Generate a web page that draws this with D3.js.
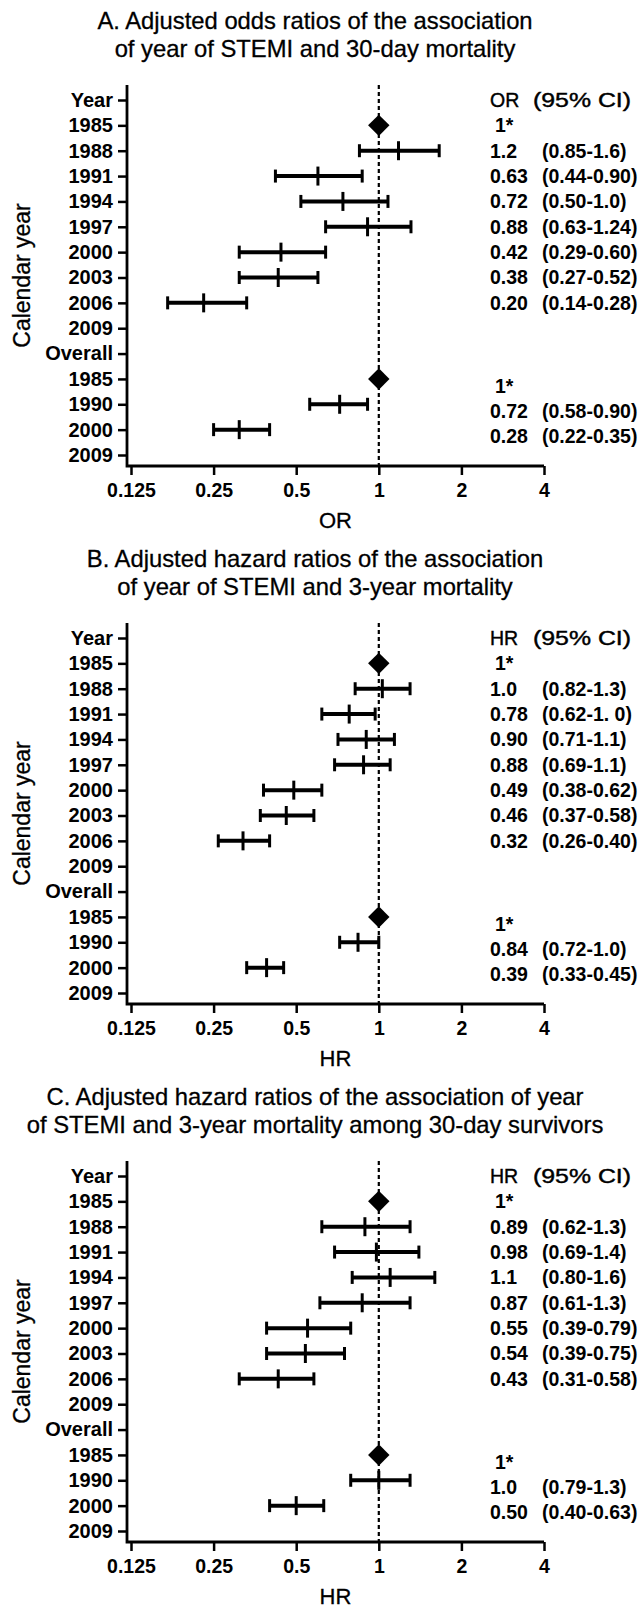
<!DOCTYPE html>
<html>
<head>
<meta charset="utf-8">
<script src="https://cdnjs.cloudflare.com/ajax/libs/d3/7.8.5/d3.min.js"></script>
<style>
    body { margin: 0; background: #fff; }
    svg { font-family: 'Liberation Sans', Arial, sans-serif; }
    .axis path, .axis line { stroke: #000; stroke-width: 2.5; }
    .axis text { font-weight: bold; fill: #000; }
    .y-axis text { font-size: 20px; }
    .x-axis text { font-size: 19.5px; }
    .col-text { font-size: 19.5px; font-weight: bold; fill: #000; }
    .col-head { font-weight: normal; stroke: #000; stroke-width: 0.4; }
    .title { font-size: 23.8px; fill: #000; stroke: #000; stroke-width: 0.3; }
    .axis-title { font-size: 22px; fill: #000; stroke: #000; stroke-width: 0.3; }
    .y-title { font-size: 23px; }
</style>
</head>
<body>
<div id="chart"></div>
<script>
// rows of every panel, top to bottom
var rowLabels = ['Year', '1985', '1988', '1991', '1994', '1997', '2000', '2003', '2006', '2009',
    'Overall', '1985', '1990', '2000', '2009'];
var refRows = [1, 11];                            // reference year (1985) rows
var barRows = [2, 3, 4, 5, 6, 7, 8, 12, 13];      // rows with an estimate
var xTicks = [0.125, 0.25, 0.5, 1, 2, 4];

// A. odds ratios, 30-day mortality (positions as plotted)
var titleA = ['A. Adjusted odds ratios of the association', 'of year of STEMI and 30-day mortality'];
var estA = [1.18, 0.60, 0.74, 0.91, 0.44, 0.43, 0.23, 0.72, 0.31];
var lowA = [0.85, 0.42, 0.52, 0.64, 0.31, 0.31, 0.17, 0.56, 0.25];
var highA = [1.66, 0.87, 1.08, 1.31, 0.64, 0.60, 0.33, 0.91, 0.40];
var ratioA = ['1.2', '0.63', '0.72', '0.88', '0.42', '0.38', '0.20', '0.72', '0.28'];
var ciA = ['(0.85-1.6)', '(0.44-0.90)', '(0.50-1.0)', '(0.63-1.24)', '(0.29-0.60)', '(0.27-0.52)',
    '(0.14-0.28)', '(0.58-0.90)', '(0.22-0.35)'];

// B. hazard ratios, 3-year mortality
var titleB = ['B. Adjusted hazard ratios of the association', 'of year of STEMI and 3-year mortality'];
var estB = [1.03, 0.78, 0.90, 0.88, 0.49, 0.46, 0.32, 0.84, 0.39];
var lowB = [0.82, 0.62, 0.71, 0.69, 0.38, 0.37, 0.26, 0.72, 0.33];
var highB = [1.3, 0.97, 1.14, 1.1, 0.62, 0.58, 0.40, 1.0, 0.45];
var ratioB = ['1.0', '0.78', '0.90', '0.88', '0.49', '0.46', '0.32', '0.84', '0.39'];
var ciB = ['(0.82-1.3)', '(0.62-1. 0)', '(0.71-1.1)', '(0.69-1.1)', '(0.38-0.62)', '(0.37-0.58)',
    '(0.26-0.40)', '(0.72-1.0)', '(0.33-0.45)'];

// C. hazard ratios, 3-year mortality among 30-day survivors
var titleC = ['C. Adjusted hazard ratios of the association of year',
    'of STEMI and 3-year mortality among 30-day survivors'];
var estC = [0.89, 0.98, 1.1, 0.87, 0.55, 0.54, 0.43, 1.0, 0.50];
var lowC = [0.62, 0.69, 0.80, 0.61, 0.39, 0.39, 0.31, 0.79, 0.40];
var highC = [1.3, 1.4, 1.6, 1.3, 0.79, 0.75, 0.58, 1.3, 0.63];
var ratioC = ['0.89', '0.98', '1.1', '0.87', '0.55', '0.54', '0.43', '1.0', '0.50'];
var ciC = ['(0.62-1.3)', '(0.69-1.4)', '(0.80-1.6)', '(0.61-1.3)', '(0.39-0.79)', '(0.39-0.75)',
    '(0.31-0.58)', '(0.79-1.3)', '(0.40-0.63)'];

var width = 642, height = 1606;
var panelStep = 538;

var svg = d3.select('#chart')
    .append('svg')
    .attr('width', width)
    .attr('height', height);

var x = d3.scaleLog()
    .base(2)
    .domain([0.125, 4])
    .range([131, 544]);

var y = d3.scalePoint()
    .domain(d3.range(rowLabels.length))
    .range([100, 455]);

var axisLeftX = 127, axisTop = 85, axisBottom = 466;

function drawPanel(index, title, stat, est, low, high, ratio, ci) {
    var g = svg.append('g')
        .attr('transform', 'translate(0,' + (index * panelStep) + ')');

    g.append('text')
        .attr('class', 'title')
        .attr('text-anchor', 'middle')
        .attr('x', 315)
        .selectAll('tspan')
        .data(title)
        .enter()
        .append('tspan')
        .attr('x', 315)
        .attr('y', function(d, i) { return 29 + i * 28; })
        .text(function(d) { return d; });

    // reference line at 1
    g.append('line')
        .attr('x1', x(1))
        .attr('x2', x(1))
        .attr('y1', axisTop)
        .attr('y2', axisBottom)
        .attr('stroke', '#000')
        .attr('stroke-width', 2.2)
        .attr('stroke-dasharray', '4,3');

    var yAxis = d3.axisLeft(y)
        .tickSize(9)
        .tickPadding(5)
        .tickFormat(function(i) { return rowLabels[i]; });

    var ya = g.append('g')
        .attr('class', 'axis y-axis')
        .attr('transform', 'translate(' + axisLeftX + ',0)')
        .call(yAxis);
    ya.select('.domain').remove();

    var xAxis = d3.axisBottom(x)
        .tickValues(xTicks)
        .tickSize(9)
        .tickPadding(8)
        .tickFormat(function(d) { return String(d); });

    var xa = g.append('g')
        .attr('class', 'axis x-axis')
        .attr('transform', 'translate(0,' + axisBottom + ')')
        .call(xAxis);
    xa.select('.domain').remove();

    // axis lines meeting in the corner
    g.append('path')
        .attr('d', 'M' + axisLeftX + ',' + axisTop + 'V' + axisBottom + 'H' + x.range()[1])
        .attr('fill', 'none')
        .attr('stroke', '#000')
        .attr('stroke-width', 2.8);

    g.append('text')
        .attr('class', 'axis-title')
        .attr('text-anchor', 'middle')
        .attr('x', (axisLeftX + x.range()[1]) / 2)
        .attr('y', 528)
        .text(stat);

    g.append('text')
        .attr('class', 'axis-title y-title')
        .attr('text-anchor', 'middle')
        .attr('transform', 'translate(30,' + ((axisTop + axisBottom) / 2) + ') rotate(-90)')
        .text('Calendar year');

    // reference diamonds
    g.selectAll('.ref')
        .data(refRows)
        .enter()
        .append('path')
        .attr('class', 'ref')
        .attr('d', d3.symbol(d3.symbolSquare, 230))
        .attr('transform', function(r) {
            return 'translate(' + x(1) + ',' + y(r) + ') rotate(45)';
        })
        .attr('fill', '#000');

    var bars = g.selectAll('.bar')
        .data(barRows)
        .enter()
        .append('g')
        .attr('class', 'bar')
        .attr('transform', function(r) { return 'translate(0,' + y(r) + ')'; });

    bars.append('line')
        .attr('x1', function(r, i) { return x(low[i]); })
        .attr('x2', function(r, i) { return x(high[i]); })
        .attr('stroke', '#000')
        .attr('stroke-width', 4);

    [low, high].forEach(function(end) {
        bars.append('line')
            .attr('x1', function(r, i) { return x(end[i]); })
            .attr('x2', function(r, i) { return x(end[i]); })
            .attr('y1', -6.5)
            .attr('y2', 6.5)
            .attr('stroke', '#000')
            .attr('stroke-width', 3);
    });

    bars.append('line')
        .attr('x1', function(r, i) { return x(est[i]); })
        .attr('x2', function(r, i) { return x(est[i]); })
        .attr('y1', -9.5)
        .attr('y2', 9.5)
        .attr('stroke', '#000')
        .attr('stroke-width', 3);

    // text columns on the right
    function rowY(r) {
        return y(r) + (r > 10 ? 7 : 0);
    }

    g.append('text').attr('class', 'col-text col-head').attr('x', 490).attr('y', y(0))
        .attr('dy', '0.35em').text(stat);
    g.append('text').attr('class', 'col-text col-head').attr('x', 533).attr('y', y(0))
        .attr('dy', '0.35em')
        .attr('textLength', 98)
        .attr('lengthAdjust', 'spacingAndGlyphs')
        .text('(95% CI)');

    g.selectAll('.ref-text')
        .data(refRows)
        .enter()
        .append('text')
        .attr('class', 'col-text ref-text')
        .attr('x', 495)
        .attr('y', rowY)
        .attr('dy', '0.35em')
        .text('1*');

    g.selectAll('.ratio-text')
        .data(barRows)
        .enter()
        .append('text')
        .attr('class', 'col-text ratio-text')
        .attr('x', 490)
        .attr('y', rowY)
        .attr('dy', '0.35em')
        .text(function(r, i) { return ratio[i]; });

    g.selectAll('.ci-text')
        .data(barRows)
        .enter()
        .append('text')
        .attr('class', 'col-text ci-text')
        .attr('x', 542)
        .attr('y', rowY)
        .attr('dy', '0.35em')
        .text(function(r, i) { return ci[i]; });
}

drawPanel(0, titleA, 'OR', estA, lowA, highA, ratioA, ciA);
drawPanel(1, titleB, 'HR', estB, lowB, highB, ratioB, ciB);
drawPanel(2, titleC, 'HR', estC, lowC, highC, ratioC, ciC);
</script>
</body>
</html>
